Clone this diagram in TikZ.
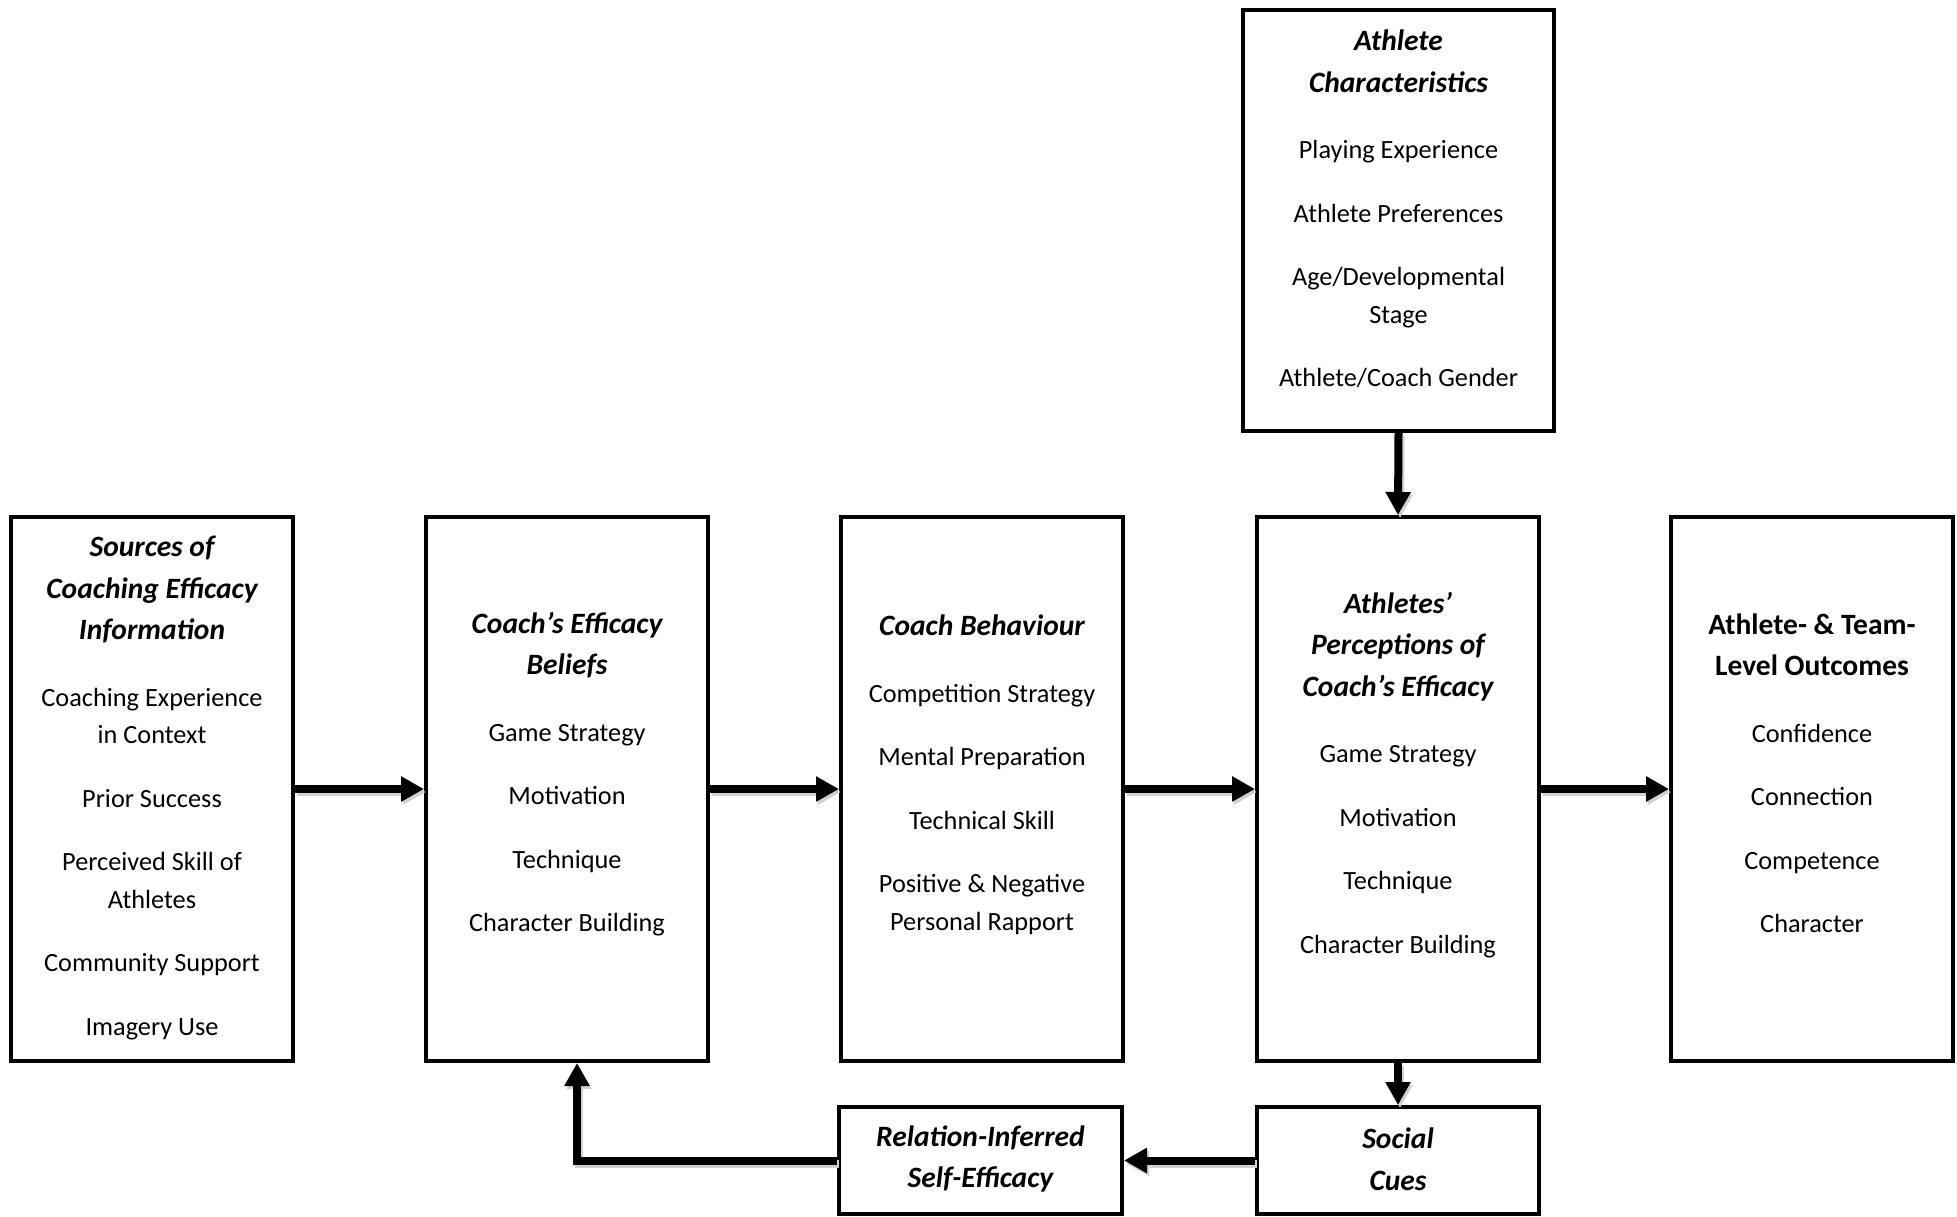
\documentclass[tikz,border=0pt]{standalone}
\usepackage{fontspec}
\setmainfont{Carlito}
\usetikzlibrary{arrows.meta,calc}
\newcommand\hd[1]{{\bfseries\itshape\fontsize{29.5}{37.5}\selectfont #1}}
\newcommand\hdb[1]{{\bfseries\fontsize{29.5}{37.5}\selectfont #1}}
\begin{document}
\begin{tikzpicture}[x=1pt,y=-1pt,
  box/.style={draw,line width=4pt,minimum width=282pt,inner sep=0pt},
  tall/.style={box,minimum height=544pt},
  low/.style={box,minimum height=107pt},
  txt/.style={align=center,inner sep=0pt,font=\fontsize{26.3}{37.5}\selectfont},
  arr/.style={line width=8pt,-{Triangle[length=23pt,width=24pt]},
    preaction={draw=black!18,line width=8pt,-{Triangle[length=23pt,width=24pt]},
      transform canvas={shift={(2pt,-3pt)}}}},
]
\useasboundingbox (0,0) rectangle (1957,1216);

% boxes
\node[tall] (b1) at (152,789) {};
\node[tall] (b2) at (567,789) {};
\node[tall] (b3) at (982,789) {};
\node[tall] (b4) at (1398,789) {};
\node[tall] (b5) at (1812,789) {};
\node[box,minimum width=311pt,minimum height=421pt] (top) at (1398.5,220.5) {};
\node[low] (soc) at (1398,1160.5) {};
\node[low,minimum width=283pt] (rel) at (980.5,1160.5) {};

% texts
\node[txt] (t1) at (152,788) {\hd{Sources of}\\[4pt]\hd{Coaching Efficacy}\\[4pt]\hd{Information}\\[29pt]Coaching Experience\\in Context\\[26pt]Prior Success\\[26pt]Perceived Skill of\\Athletes\\[26pt]Community Support\\[26pt]Imagery Use};
\node[txt] (t2) at (567,774) {\hd{Coach’s Efficacy}\\[4pt]\hd{Beliefs}\\[29pt]Game Strategy\\[26pt]Motivation\\[26pt]Technique\\[26pt]Character Building};
\node[txt] (t3) at (982,775) {\hd{Coach Behaviour}\\[29pt]Competition Strategy\\[26pt]Mental Preparation\\[26pt]Technical Skill\\[26pt]Positive \& Negative\\Personal Rapport};
\node[txt] (t4) at (1398,775) {\hd{Athletes’}\\[4pt]\hd{Perceptions of}\\[4pt]\hd{Coach’s Efficacy}\\[29pt]Game Strategy\\[26pt]Motivation\\[26pt]Technique\\[26pt]Character Building};
\node[txt] (t5) at (1812,773) {\hdb{Athlete- \& Team-}\\[4pt]\hdb{Level Outcomes}\\[29pt]Confidence\\[26pt]Connection\\[26pt]Competence\\[26pt]Character};
\node[txt] (t6) at (1398.5,209) {\hd{Athlete}\\[4pt]\hd{Characteristics}\\[29pt]Playing Experience\\[26pt]Athlete Preferences\\[26pt]Age/Developmental\\Stage\\[26pt]Athlete/Coach Gender};
\node[txt] (t7) at (1398,1159) {\hd{Social}\\[4pt]\hd{Cues}};
\node[txt] (t8) at (980.5,1159) {\hd{Relation-Inferred}\\[4pt]\hd{Self-Efficacy}};

% connectors
\draw[arr] (b1.east) -- (b2.west);
\draw[arr] (b2.east) -- (b3.west);
\draw[arr] (b3.east) -- (b4.west);
\draw[arr] (b4.east) -- (b5.west);
\draw[arr] (top.south) -- (b4.north);
\draw[arr] (b4.south) -- (soc.north);
\draw[arr] (soc.west) -- (rel.east);
\draw[arr] (rel.west) -| ([xshift=10pt]b2.south);
\end{tikzpicture}
\end{document}
